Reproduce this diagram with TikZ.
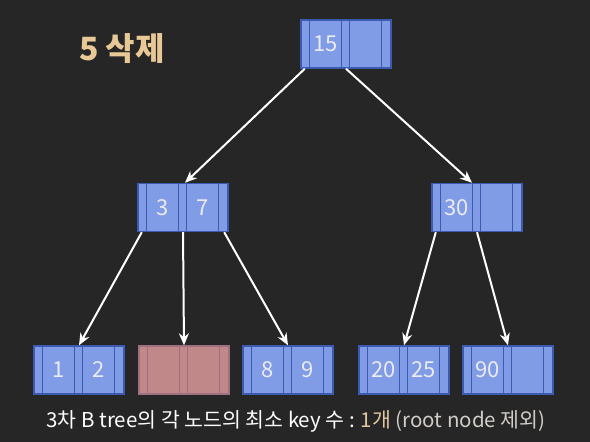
\documentclass[tikz,border=0pt]{standalone}
\usepackage{fontspec}
\setmainfont{Noto Sans CJK KR}
\usetikzlibrary{arrows.meta}

\definecolor{bg}{RGB}{38,38,38}
\definecolor{keyfill}{RGB}{128,156,230}
\definecolor{keyline}{RGB}{60,90,175}
\definecolor{delfill}{RGB}{192,136,136}
\definecolor{delline}{RGB}{160,112,128}
\definecolor{titlecol}{RGB}{232,200,150}
\definecolor{notecol}{RGB}{225,200,160}
\definecolor{softgray}{RGB}{210,205,200}

\tikzset{
  bt/.style={draw, line width=1.4pt, minimum width=90pt, minimum height=48pt, inner sep=0pt},
  divline/.style={line width=1.4pt},
  keytext/.style={text=white!92!black, font=\fontsize{22}{24}\selectfont, inner sep=0pt},
  link/.style={draw=white, line width=2pt, -{Stealth[length=12pt,width=10pt]}},
}

% B-tree node: name, centre x, centre y, first key, second key, fill, line colour
\newcommand{\btnode}[7]{%
  \node[bt, fill=#6, draw=#7] (#1) at (#2,#3) {};
  \foreach \d in {9,41,49,81}{%
    \draw[divline, draw=#7] ([xshift=\d pt]#1.north west) -- ([xshift=\d pt]#1.south west);}
  \node[keytext] (#1-a) at ([xshift=25pt]#1.west) {#4};
  \node[keytext] (#1-b) at ([xshift=65pt]#1.west) {#5};
  \coordinate (#1-p0) at ([xshift=4.5pt]#1.south west);
  \coordinate (#1-p1) at (#1.south);
  \coordinate (#1-p2) at ([xshift=-4.5pt]#1.south east);
}

\begin{document}
\begin{tikzpicture}[x=1pt,y=-1pt]
\fill[bg] (0,0) rectangle (590,442);
\useasboundingbox (0,0) rectangle (590,442);

\node[text=titlecol, font=\fontsize{32}{36}\selectfont\bfseries] (title) at (122,49) {5 삭제};

\btnode{root}{346}{44}{15}{}{keyfill}{keyline}
\btnode{left}{183}{207.5}{3}{7}{keyfill}{keyline}
\btnode{right}{477}{207.5}{30}{}{keyfill}{keyline}
\btnode{leafa}{79}{370}{1}{2}{keyfill}{keyline}
\btnode{leafb}{184}{370}{}{}{delfill}{delline}
\btnode{leafc}{288}{370}{8}{9}{keyfill}{keyline}
\btnode{leafd}{404}{370}{20}{25}{keyfill}{keyline}
\btnode{leafe}{508}{370}{90}{}{keyfill}{keyline}

\draw[link] (root-p0) -- ([xshift=2pt]left.north);
\draw[link] (root-p1) -- ([xshift=-5pt]right.north);
\draw[link] (left-p0) -- (leafa.north);
\draw[link] (left-p1) -- (leafb.north);
\draw[link] (left-p2) -- (leafc.north);
\draw[link] (right-p0) -- (leafd.north);
\draw[link] (right-p1) -- (leafe.north);

\node[text=white, font=\fontsize{20.5}{23}\selectfont] (caption) at (296,421)
  {3차 B tree의 각 노드의 최소 key 수 : \textcolor{notecol}{1개} \textcolor{softgray}{(root node 제외)}};
\end{tikzpicture}
\end{document}
